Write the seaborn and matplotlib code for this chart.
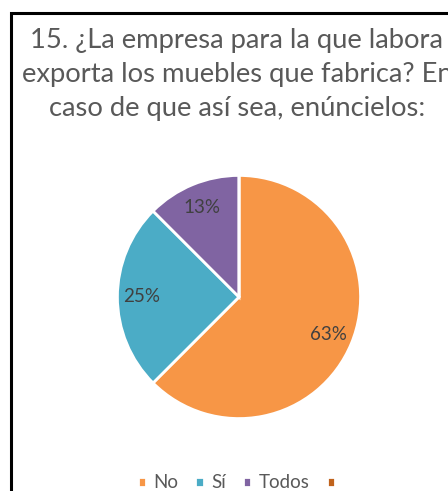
import numpy as np
import pandas as pd
import matplotlib
matplotlib.use('Agg')
import matplotlib.pyplot as plt
import seaborn as sns
from matplotlib.patches import Rectangle

#********** data **********

categories = ['No', 'Sí', 'Todos', '']
shares = [62.5, 25.0, 12.5, 0.0]
pct_labels = ['63%', '25%', '13%', '']
colors = ['#F79646', '#4BACC6', '#8064A2', '#C0631C']

title_lines = ['15. ¿La empresa para la que labora',
               'exporta los muebles que fabrica? En',
               'caso de que así sea, enúncielos:']

#********** style **********

sns.set_theme(style='white')
plt.rcParams['font.family'] = ['Lato', 'DejaVu Sans']

df = pd.DataFrame({'cat': categories, 'share': shares, 'label': pct_labels})
palette = sns.color_palette(colors)

fig = plt.figure(figsize=(4.48, 4.91), dpi=100)
W, H = 448, 491

# black frame of the chart box (cropped on right and bottom)
fig.patches.append(Rectangle((11 / W, -0.1), 1.2, 1 - 13 / H + 0.1,
                             transform=fig.transFigure, fill=False,
                             edgecolor='black', linewidth=2.2, zorder=10))

# title, three centered lines
for i, line in enumerate(title_lines):
    fig.text(237 / W, 1 - (48 + i * 34) / H, line, ha='center', va='baseline',
             fontsize=19.7, color='#595959')

#********** pie **********

cx, cy, r = 239, 297, 124
ax = fig.add_axes([(cx - r) / W, 1 - (cy + r) / H, 2 * r / W, 2 * r / H])
wedges, _ = ax.pie(df['share'], colors=palette, startangle=90, counterclock=False,
                   wedgeprops=dict(edgecolor='white', linewidth=2))
ax.set_xlim(-1.02, 1.02)
ax.set_ylim(-1.02, 1.02)

# percent labels at the wedge middles
for w, lab, s in zip(wedges, df['label'], df['share']):
    if s == 0:
        continue
    mid = np.deg2rad((w.theta1 + w.theta2) / 2)
    ax.text(0.8 * np.cos(mid), 0.8 * np.sin(mid), lab, ha='center', va='center',
            fontsize=13.5, color='#404040')

fig.legend(wedges, df['cat'], loc='center', bbox_to_anchor=(240 / W, 1 - 483 / H),
           ncol=4, frameon=False, fontsize=13.5, handlelength=0.45, handleheight=0.45,
           handletextpad=0.4, columnspacing=0.9, labelcolor='#595959')

fig.savefig('out.png', dpi=100)
